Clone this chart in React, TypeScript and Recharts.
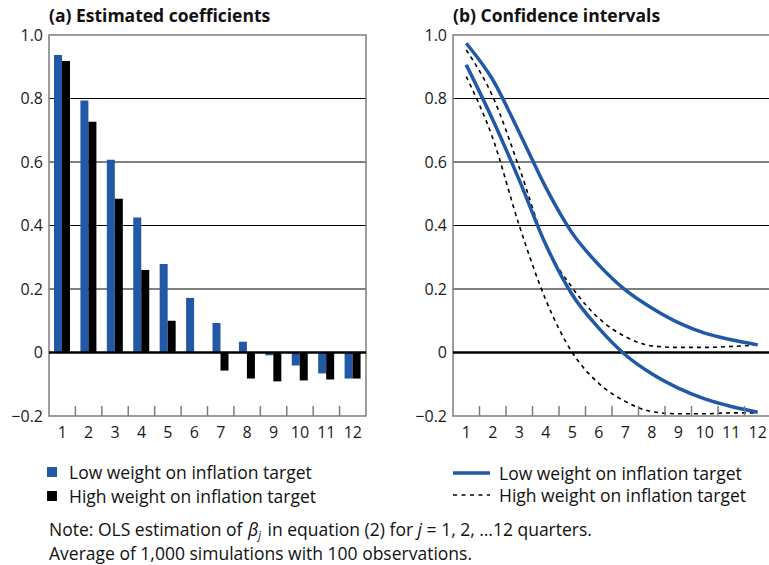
import React from "react";
import {
  BarChart,
  Bar,
  LineChart,
  Line,
  XAxis,
  YAxis,
  CartesianGrid,
  ReferenceLine,
  ReferenceArea,
} from "recharts";

// Quarters j = 1..12
const quarters = [1, 2, 3, 4, 5, 6, 7, 8, 9, 10, 11, 12];

// (a) Estimated coefficients
const lowWeightCoef = [0.937, 0.794, 0.607, 0.425, 0.279, 0.172, 0.093, 0.034, -0.009, -0.041, -0.066, -0.082];
const highWeightCoef = [0.918, 0.727, 0.484, 0.26, 0.1, 0.0, -0.057, -0.082, -0.091, -0.088, -0.085, -0.082];

// (b) Confidence intervals (upper / lower bands)
const lowUpper = [0.974, 0.859, 0.693, 0.52, 0.376, 0.276, 0.197, 0.14, 0.094, 0.061, 0.04, 0.024];
const lowLower = [0.906, 0.733, 0.543, 0.34, 0.182, 0.077, -0.007, -0.067, -0.112, -0.146, -0.17, -0.188];
const highUpper = [0.953, 0.806, 0.582, 0.34, 0.204, 0.108, 0.05, 0.021, 0.016, 0.016, 0.019, 0.024];
const highLower = [0.869, 0.675, 0.4, 0.166, 0.0, -0.097, -0.154, -0.186, -0.193, -0.193, -0.19, -0.19];

const yTicks = [-0.2, 0, 0.2, 0.4, 0.6, 0.8, 1.0];
const gridValues = [0.2, 0.4, 0.6, 0.8];

const legendLow = "Low weight on inflation target";
const legendHigh = "High weight on inflation target";

const BLUE = "#2159a7";
const FRAME = "#7d7d7d";
const FONT = "'Open Sans', 'Noto Sans', sans-serif";
const TICK_FONT_SIZE = 16;

const barData = quarters.map((q, i) => ({
  q,
  low: lowWeightCoef[i],
  high: highWeightCoef[i],
}));

const lineData = quarters.map((q, i) => ({
  q,
  lowUpper: lowUpper[i],
  lowLower: lowLower[i],
  highUpper: highUpper[i],
  highLower: highLower[i],
}));

const fmtY = (v: number) => {
  if (Math.abs(v) < 1e-9) return "0";
  if (v < 0) return "\u2212" + Math.abs(v).toFixed(1);
  return v.toFixed(1);
};

// layout of the two panels
const CHART_H = 450;
const Y_AXIS_W = 49;
const X_AXIS_H = 30;
const TICK_SIZE = 6;
const TICK_MARGIN = 5;
const MARGIN_TOP = 35;
const MARGIN_BOTTOM = 4;

const A_W = 390;
const A_RIGHT = 24;
const A_PLOT_W = A_W - Y_AXIS_W - A_RIGHT;

const B_LEFT = 404;
const B_W = 380;
const B_RIGHT = 13;
const B_PLOT_W = B_W - Y_AXIS_W - B_RIGHT;

// x tick: label plus a short inward mark on the boundary between quarters
const makeXTick = (band: number) => (props: any) => {
  const { x, y, payload } = props;
  const axisY = y - TICK_SIZE - TICK_MARGIN;
  const last = String(payload.value) === "12";
  return (
    <g>
      {!last && (
        <line
          x1={x + band / 2}
          x2={x + band / 2}
          y1={axisY - 10}
          y2={axisY}
          stroke={FRAME}
          strokeWidth={1.5}
        />
      )}
      <text
        x={x}
        y={y}
        dy="0.71em"
        textAnchor="middle"
        fill="#1a1a1a"
        fontSize={TICK_FONT_SIZE}
        fontFamily={FONT}
      >
        {payload.value}
      </text>
    </g>
  );
};

const yTickStyle = { fill: "#1a1a1a", fontSize: TICK_FONT_SIZE, fontFamily: FONT };

const titleStyle: React.CSSProperties = {
  position: "absolute",
  top: 3,
  fontFamily: FONT,
  fontWeight: 700,
  fontSize: 17.5,
  lineHeight: "24px",
  color: "#111",
  whiteSpace: "nowrap",
};

const legendText: React.CSSProperties = {
  fontFamily: FONT,
  fontSize: 17.5,
  lineHeight: "20px",
  color: "#111",
  whiteSpace: "nowrap",
};

const Swatch = ({ color }: { color: string }) => (
  <svg width={22} height={12} style={{ display: "block" }}>
    <rect x={0} y={1} width={10} height={10} fill={color} />
  </svg>
);

const LineSwatch = ({ dashed }: { dashed?: boolean }) => (
  <svg width={46} height={12} style={{ display: "block" }}>
    <line
      x1={0}
      x2={37}
      y1={6}
      y2={6}
      stroke={dashed ? "#000" : BLUE}
      strokeWidth={dashed ? 1.6 : 3.5}
      strokeDasharray={dashed ? "4 4.5" : undefined}
    />
  </svg>
);

const Row = ({ top, left, swatch, label }: any) => (
  <div style={{ position: "absolute", top, left, display: "flex", alignItems: "center", height: 20 }}>
    {swatch}
    <span style={legendText}>{label}</span>
  </div>
);

export default function App() {
  return (
    <div
      style={{
        position: "absolute",
        left: 0,
        top: 0,
        width: 769,
        height: 565,
        overflow: "hidden",
        background: "#fff",
      }}
    >
      <div style={{ ...titleStyle, left: 49 }}>(a) Estimated coefficients</div>
      <div style={{ ...titleStyle, left: 453 }}>(b) Confidence intervals</div>

      <div style={{ position: "absolute", left: 0, top: 0 }}>
        <BarChart
          width={A_W}
          height={CHART_H}
          data={barData}
          margin={{ top: MARGIN_TOP, right: A_RIGHT, bottom: MARGIN_BOTTOM, left: 0 }}
          barCategoryGap={5}
          barGap={0}
        >
          <CartesianGrid
            horizontalValues={gridValues}
            vertical={false}
            stroke="#000"
            strokeWidth={1}
          />
          <XAxis
            dataKey="q"
            height={X_AXIS_H}
            axisLine={false}
            tickLine={false}
            tickSize={TICK_SIZE}
            tickMargin={TICK_MARGIN}
            interval={0}
            tick={makeXTick(A_PLOT_W / quarters.length)}
          />
          <YAxis
            width={Y_AXIS_W}
            domain={[-0.2, 1.0]}
            ticks={yTicks}
            tickFormatter={fmtY}
            axisLine={false}
            tickLine={false}
            tickSize={TICK_SIZE}
            tickMargin={0}
            tick={yTickStyle}
            interval={0}
          />
          <Bar dataKey="low" fill={BLUE} isAnimationActive={false} />
          <Bar dataKey="high" fill="#000" isAnimationActive={false} />
          <ReferenceLine y={0} stroke="#000" strokeWidth={2.5} />
          <ReferenceArea y1={-0.2} y2={1.0} fill="none" stroke={FRAME} strokeWidth={1.5} />
        </BarChart>
      </div>

      <div style={{ position: "absolute", left: B_LEFT, top: 0 }}>
        <LineChart
          width={B_W}
          height={CHART_H}
          data={lineData}
          margin={{ top: MARGIN_TOP, right: B_RIGHT, bottom: MARGIN_BOTTOM, left: 0 }}
        >
          <CartesianGrid
            horizontalValues={gridValues}
            vertical={false}
            stroke="#000"
            strokeWidth={1}
          />
          <XAxis
            dataKey="q"
            type="number"
            domain={[0.5, 12.5]}
            ticks={quarters}
            height={X_AXIS_H}
            axisLine={false}
            tickLine={false}
            tickSize={TICK_SIZE}
            tickMargin={TICK_MARGIN}
            interval={0}
            tick={makeXTick(B_PLOT_W / quarters.length)}
          />
          <YAxis
            width={Y_AXIS_W}
            domain={[-0.2, 1.0]}
            ticks={yTicks}
            tickFormatter={fmtY}
            axisLine={false}
            tickLine={false}
            tickSize={TICK_SIZE}
            tickMargin={0}
            tick={yTickStyle}
            interval={0}
          />
          <ReferenceLine y={0} stroke="#000" strokeWidth={2.5} />
          <Line type="monotone" dataKey="highUpper" stroke="#000" strokeWidth={1.6} strokeDasharray="4 4" dot={false} isAnimationActive={false} />
          <Line type="monotone" dataKey="highLower" stroke="#000" strokeWidth={1.6} strokeDasharray="4 4" dot={false} isAnimationActive={false} />
          <Line type="monotone" dataKey="lowUpper" stroke={BLUE} strokeWidth={3.5} dot={false} isAnimationActive={false} />
          <Line type="monotone" dataKey="lowLower" stroke={BLUE} strokeWidth={3.5} dot={false} isAnimationActive={false} />
          <ReferenceArea y1={-0.2} y2={1.0} fill="none" stroke={FRAME} strokeWidth={1.5} />
        </LineChart>
      </div>

      <Row top={462} left={47} swatch={<Swatch color={BLUE} />} label={legendLow} />
      <Row top={486} left={47} swatch={<Swatch color="#000" />} label={legendHigh} />
      <Row top={463} left={453} swatch={<LineSwatch />} label={legendLow} />
      <Row top={485} left={453} swatch={<LineSwatch dashed />} label={legendHigh} />

      <div
        style={{
          position: "absolute",
          left: 49,
          top: 517,
          fontFamily: FONT,
          fontSize: 17.5,
          lineHeight: "24px",
          color: "#111",
          whiteSpace: "nowrap",
        }}
      >
        <div>
          Note: OLS estimation of <i style={{ marginLeft: 1 }}>β</i>
          <span style={{ fontSize: 11, fontStyle: "italic", position: "relative", top: 3, lineHeight: 0, marginRight: 2 }}>j</span>{" "}
          in equation (2) for <i>j</i> = 1, 2, …12 quarters.
        </div>
        <div>Average of 1,000 simulations with 100 observations.</div>
      </div>
    </div>
  );
}
